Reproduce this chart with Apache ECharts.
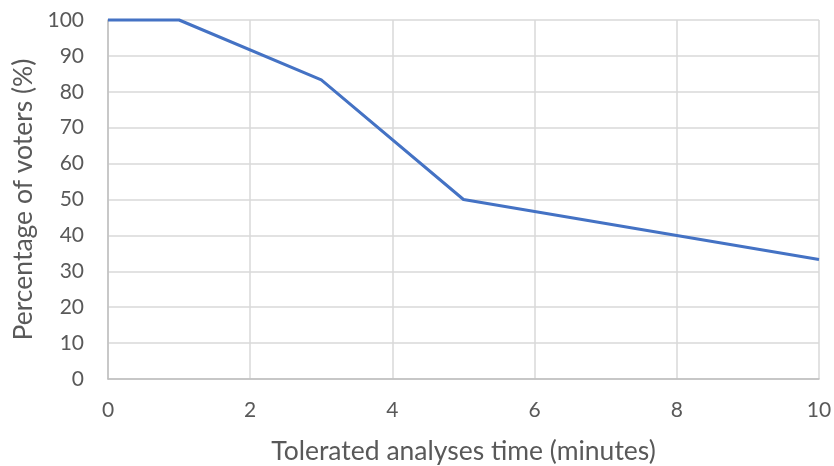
<!DOCTYPE html>
<html>
<head>
<meta charset="utf-8">
<script src="https://cdn.jsdelivr.net/npm/echarts@6/dist/echarts.min.js"></script>
<style>
  html, body { margin: 0; padding: 0; background: #fff; }
  #chart { width: 834px; height: 466px; }
</style>
</head>
<body>
<div id="chart"></div>
<script>
// Tolerated analysis time (minutes) vs share of voters still accepting it
const timeMinutes = [0, 1, 3, 5, 10];
const voterPercent = [100, 100, 83.3, 50, 33.3];

const xTicks = { min: 0, max: 10, interval: 2 };
const yTicks = { min: 0, max: 100, interval: 10 };

const textColor = '#595959';
const fontFamily = 'Lato, "Open Sans", sans-serif';

const chart = echarts.init(document.getElementById('chart'));
chart.setOption({
  animation: false,
  grid: {
    left: 108, right: 15, top: 20, bottom: 87,
    containLabel: false,
    outerBoundsMode: 'none'
  },
  xAxis: {
    type: 'value',
    min: xTicks.min, max: xTicks.max, interval: xTicks.interval,
    name: 'Tolerated analyses time (minutes)',
    nameLocation: 'middle', nameGap: 59,
    nameTextStyle: { color: textColor, fontSize: 26.5, fontFamily },
    axisLine: { show: true, lineStyle: { color: '#bfbfbf', width: 1.5 } },
    axisTick: { show: false },
    axisLabel: { color: textColor, fontSize: 21, fontFamily, margin: 21 },
    splitLine: { show: true, lineStyle: { color: '#d9d9d9', width: 1.5 } }
  },
  yAxis: {
    type: 'value',
    min: yTicks.min, max: yTicks.max, interval: yTicks.interval,
    name: 'Percentage of voters (%)',
    nameLocation: 'middle', nameGap: 71,
    nameTextStyle: { color: textColor, fontSize: 26.5, fontFamily },
    axisLine: { show: true, lineStyle: { color: '#bfbfbf', width: 1.5 } },
    axisTick: { show: false },
    axisLabel: { color: textColor, fontSize: 21, fontFamily, margin: 24 },
    splitLine: { show: true, lineStyle: { color: '#d9d9d9', width: 1.5 } }
  },
  series: [{
    type: 'line',
    data: timeMinutes.map((t, i) => [t, voterPercent[i]]),
    symbol: 'none',
    lineStyle: { color: '#4472C4', width: 3 },
    clip: false
  }]
});
</script>
</body>
</html>
